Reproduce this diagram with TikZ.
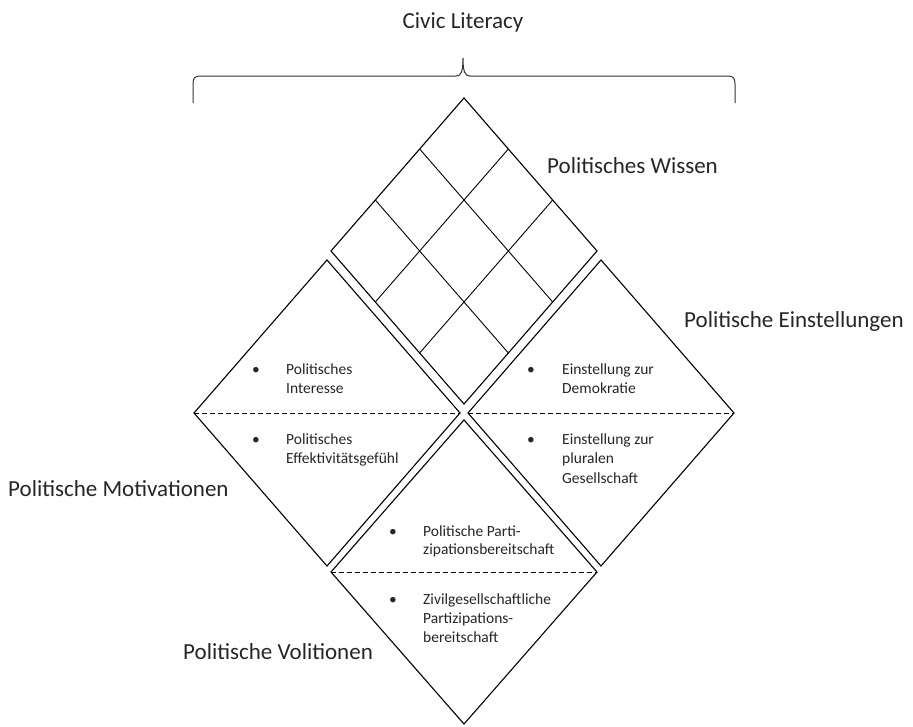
\documentclass[tikz,border=0pt]{standalone}
\usepackage{fontspec}
\setmainfont{Carlito}
\usetikzlibrary{calc}
\begin{document}
\begin{tikzpicture}[x=1pt,y=-1pt,
  frame/.style={line width=1.1pt,black,line join=miter},
  gridline/.style={line width=0.9pt,black},
  divider/.style={line width=0.8pt,black,dash pattern=on 5pt off 3pt},
  bracepath/.style={line width=1pt,black!80},
  biglabel/.style={font=\fontsize{23}{27}\selectfont,text=black!85,inner sep=0pt},
  itemtext/.style={font=\fontsize{15.5}{19}\selectfont,text=black!85,inner sep=0pt,anchor=base west},
  bulletmark/.style={font=\fontsize{15.5}{19}\selectfont,text=black!85,inner sep=0pt,anchor=base}]
\useasboundingbox (0,0) rectangle (913,726);
% diamonds
\coordinate (Tt) at (464,98);  \coordinate (Tl) at (331,251);
\coordinate (Tb) at (464,404); \coordinate (Tr) at (597,251);
\coordinate (Lt) at (327,260); \coordinate (Ll) at (194,413);
\coordinate (Lb) at (327,566); \coordinate (Lr) at (460,413);
\coordinate (Rt) at (601,260); \coordinate (Rl) at (468,413);
\coordinate (Rb) at (601,566); \coordinate (Rr) at (734,413);
\coordinate (Bt) at (464,420); \coordinate (Bl) at (331,572);
\coordinate (Bb) at (464,724); \coordinate (Br) at (597,572);
\draw[frame] (Tt) -- (Tl) -- (Tb) -- (Tr) -- cycle;
\draw[frame] (Lt) -- (Ll) -- (Lb) -- (Lr) -- cycle;
\draw[frame] (Rt) -- (Rl) -- (Rb) -- (Rr) -- cycle;
\draw[frame] (Bt) -- (Bl) -- (Bb) -- (Br) -- cycle;
% grid in top diamond
\foreach \k in {1,2}{
  \draw[gridline] ($(Tt)!\k/3!(Tl)$) -- ($(Tr)!\k/3!(Tb)$);
  \draw[gridline] ($(Tt)!\k/3!(Tr)$) -- ($(Tl)!\k/3!(Tb)$);
}
% dashed dividers
\draw[divider] (Ll) -- (Lr);
\draw[divider] (Rl) -- (Rr);
\draw[divider] (Bl) -- (Br);
% brace
\draw[bracepath] (193,103) -- (193,84) .. controls (193,78) and (195,76) .. (200,76)
  -- (456,76) .. controls (461,76) and (463,72) .. (463,58)
  .. controls (463,72) and (465,76) .. (470,76)
  -- (728,76) .. controls (733,76) and (735,78) .. (735,84) -- (735,103);
% big labels
\node[biglabel,anchor=base] (civic) at (463,28) {Civic Literacy};
\node[biglabel,anchor=base west] (wissen) at (547,173) {Politisches Wissen};
\node[biglabel,anchor=base west] (einst) at (684,327) {Politische Einstellungen};
\node[biglabel,anchor=base west] (motiv) at (8,496) {Politische Motivationen};
\node[biglabel,anchor=base west] (volit) at (183,659) {Politische Volitionen};
% left diamond items
\node[bulletmark] (lb1) at (256,374.5) {•};
\node[itemtext] (l1a) at (286,374.5) {Politisches};
\node[itemtext] (l1b) at (286,393) {Interesse};
\node[bulletmark] (lb2) at (256,444.5) {•};
\node[itemtext] (l2a) at (286,444.5) {Politisches};
\node[itemtext] (l2b) at (286,463) {Effektivitätsgefühl};
% right diamond items
\node[bulletmark] (rb1) at (531,374.5) {•};
\node[itemtext] (r1a) at (562,374.5) {Einstellung zur};
\node[itemtext] (r1b) at (562,393) {Demokratie};
\node[bulletmark] (rb2) at (531,444.5) {•};
\node[itemtext] (r2a) at (562,444.5) {Einstellung zur};
\node[itemtext] (r2b) at (562,463.5) {pluralen};
\node[itemtext] (r2c) at (562,483) {Gesellschaft};
% bottom diamond items
\node[bulletmark] (bb1) at (393,536.5) {•};
\node[itemtext] (b1a) at (423,536.5) {Politische Parti-};
\node[itemtext] (b1b) at (423,554) {zipationsbereitschaft};
\node[bulletmark] (bb2) at (393,604.5) {•};
\node[itemtext] (b2a) at (423,604.5) {Zivilgesellschaftliche};
\node[itemtext] (b2b) at (423,623.5) {Partizipations-};
\node[itemtext] (b2c) at (423,642.5) {bereitschaft};
\end{tikzpicture}
\end{document}
